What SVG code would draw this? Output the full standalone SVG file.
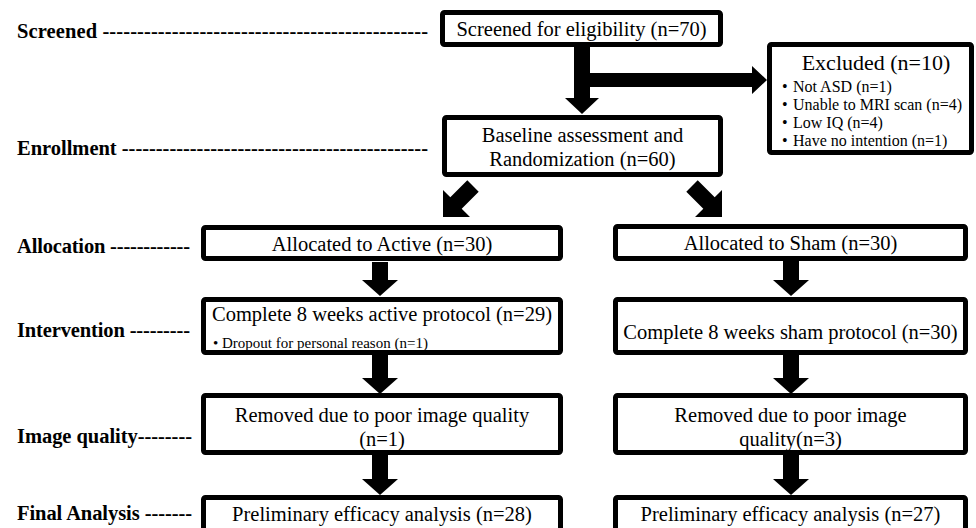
<svg xmlns="http://www.w3.org/2000/svg" width="976" height="528" viewBox="0 0 976 528">
<style>
.box{fill:#fff;stroke:#000;stroke-width:5;rx:2}
.t{font-family:"Liberation Serif","Times New Roman",serif;font-size:20.5px;fill:#000}
.c{text-anchor:middle}
.lab{font-family:"Liberation Serif","Times New Roman",serif;font-size:20.5px;font-weight:bold;fill:#000}
.sm{font-family:"Liberation Serif","Times New Roman",serif;font-size:16px;fill:#000}
.xs{font-family:"Liberation Serif","Times New Roman",serif;font-size:15px;fill:#000}
.ttl{font-family:"Liberation Serif","Times New Roman",serif;font-size:22px;fill:#000}
.ar{fill:#000}
</style>
<rect width="976" height="528" fill="#fff"/>
<g id="labels">
<text class="lab" x="17" y="38" textLength="411" lengthAdjust="spacing">Screened -----------------------------------------------</text>
<text class="lab" x="17" y="155" textLength="411" lengthAdjust="spacing">Enrollment ---------------------------------------------</text>
<text class="lab" x="17" y="253" textLength="173" lengthAdjust="spacing">Allocation ------------</text>
<text class="lab" x="17" y="337" textLength="173" lengthAdjust="spacing">Intervention ---------</text>
<text class="lab" x="17" y="443" textLength="175" lengthAdjust="spacing">Image quality--------</text>
<text class="lab" x="17" y="520" textLength="175" lengthAdjust="spacing">Final Analysis -------</text>
</g>
<g id="connectors">
<polygon class="ar" points="574,47 590,47 590,98 599,98 582,114 565,98 574,98"/>
<polygon class="ar" points="590,73 752,73 752,66 767,80 752,94 752,87 590,87"/>
<polygon class="ar" points="478.7,191.7 461.7,208.7 470,217 443,217 443,190 450.3,197.3 467.3,180.3"/>
<polygon class="ar" points="686.3,191.7 703.3,208.7 695,217 722,217 722,190 714.7,197.3 697.7,180.3"/>
<polygon class="ar" points="372,262 388,262 388,280 398,280 380,296 362,280 372,280"/>
<polygon class="ar" points="372,355 388,355 388,378 398,378 380,394 362,378 372,378"/>
<polygon class="ar" points="372,455 388,455 388,479 398,479 380,495 362,479 372,479"/>
<polygon class="ar" points="783,261 799,261 799,280 809,280 791,296 773,280 783,280"/>
<polygon class="ar" points="783,355 799,355 799,378 809,378 791,394 773,378 783,378"/>
<polygon class="ar" points="783,455 799,455 799,479 809,479 791,495 773,479 783,479"/>
</g>
<g id="screened">
<rect class="box" x="442.5" y="12.5" width="278" height="32"/>
<text class="t c" x="581.5" y="35.5">Screened for eligibility (n=70)</text>
</g>
<g id="excluded">
<rect class="box" x="769.5" y="44.5" width="202" height="108"/>
<text class="ttl c" x="876" y="70">Excluded (n=10)</text>
<text class="sm" x="782" y="92">•</text><text class="sm" x="793" y="92">Not ASD (n=1)</text>
<text class="sm" x="782" y="110">•</text><text class="sm" x="793" y="110">Unable to MRI scan (n=4)</text>
<text class="sm" x="782" y="128">•</text><text class="sm" x="793" y="128">Low IQ (n=4)</text>
<text class="sm" x="782" y="146">•</text><text class="sm" x="793" y="146">Have no intention (n=1)</text>
</g>
<g id="baseline">
<rect class="box" x="444.5" y="117.5" width="276" height="57"/>
<text class="t c" x="582.5" y="142">Baseline assessment and</text>
<text class="t c" x="582.5" y="166">Randomization (n=60)</text>
</g>
<g id="alloc-active">
<rect class="box" x="203.5" y="227.5" width="357" height="31"/>
<text class="t c" x="382" y="251">Allocated to Active (n=30)</text>
</g>
<g id="alloc-sham">
<rect class="box" x="615.5" y="226.5" width="350" height="32"/>
<text class="t c" x="790.5" y="250">Allocated to Sham (n=30)</text>
</g>
<g id="interv-active">
<rect class="box" x="203.5" y="299.5" width="357" height="53"/>
<text class="t c" x="382" y="321">Complete 8 weeks active protocol (n=29)</text>
<text class="xs" x="213" y="348">• Dropout for personal reason (n=1)</text>
</g>
<g id="interv-sham">
<rect class="box" x="615.5" y="299.5" width="350" height="53"/>
<text class="t c" x="790.5" y="339">Complete 8 weeks sham protocol (n=30)</text>
</g>
<g id="imgq-active">
<rect class="box" x="203.5" y="395.5" width="357" height="57"/>
<text class="t c" x="382" y="422">Removed due to poor image quality</text>
<text class="t c" x="382" y="446">(n=1)</text>
</g>
<g id="imgq-sham">
<rect class="box" x="615.5" y="395.5" width="350" height="57"/>
<text class="t c" x="790.5" y="422">Removed due to poor image</text>
<text class="t c" x="790.5" y="446">quality(n=3)</text>
</g>
<g id="final-active">
<rect class="box" x="203.5" y="497.5" width="357" height="40"/>
<text class="t c" x="382" y="521">Preliminary efficacy analysis (n=28)</text>
</g>
<g id="final-sham">
<rect class="box" x="615.5" y="497.5" width="350" height="40"/>
<text class="t c" x="790.5" y="521">Preliminary efficacy analysis (n=27)</text>
</g>
</svg>
